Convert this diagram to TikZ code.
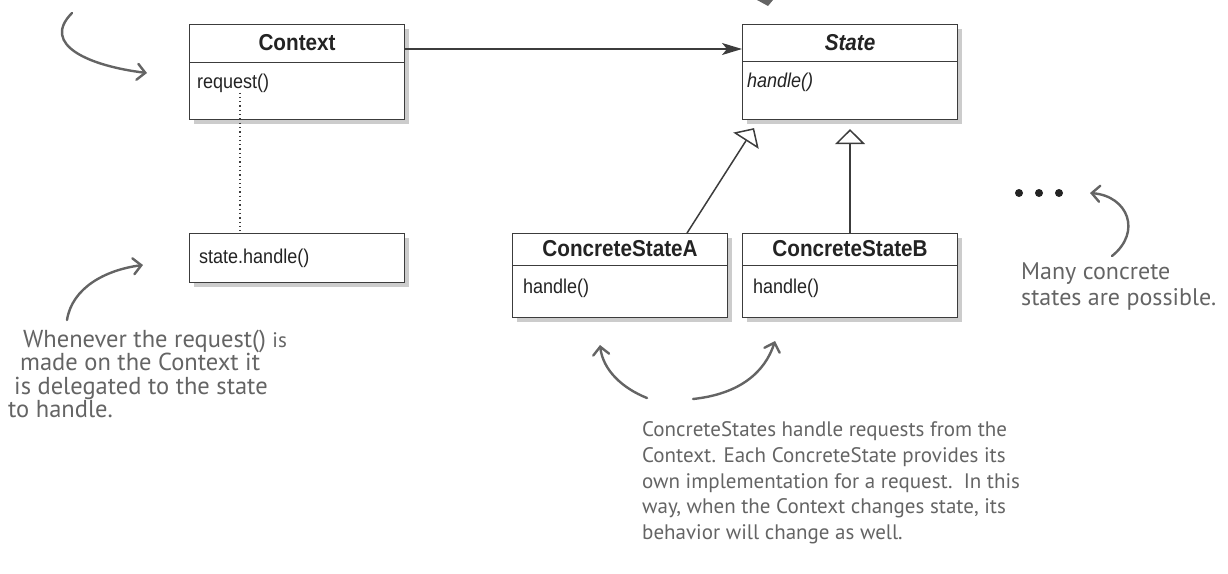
\documentclass[tikz,border=0pt]{standalone}
\usepackage{fontspec}
\setmainfont{Liberation Sans}
\newfontfamily\umlfont[FakeStretch=0.9]{Liberation Sans}
\newfontfamily\handfont{PT Sans}
\usetikzlibrary{arrows.meta,calc,shadows}

\definecolor{umlline}{RGB}{60,60,60}
\definecolor{umltext}{RGB}{35,35,35}
\definecolor{pencil}{RGB}{100,100,100}

\begin{document}
\begin{tikzpicture}[
		x=1pt, y=-1pt,
		classbox/.style={draw=umlline, line width=1.1pt, fill=white, anchor=north west, minimum width=215pt, inner sep=0pt, drop shadow={shadow xshift=4pt, shadow yshift=-4pt, opacity=0.4}},
		divider/.style={draw=umlline, line width=1pt},
		classname/.style={text=umltext, font=\umlfont\fontsize{23}{27}\selectfont\bfseries},
		method/.style={text=umltext, anchor=west, inner sep=0pt, font=\umlfont\fontsize{20}{24}\selectfont},
		assoc/.style={draw=umlline, line width=1.5pt, -{Stealth[length=20pt, width=12pt, inset=5pt]}},
		inherit/.style={draw=umlline, line width=1.5pt, -{Triangle[open, length=15pt, width=30pt, fill=white]}},
		dotline/.style={draw=umlline, line width=1.3pt, dash pattern=on 1.3pt off 3pt},
		handnote/.style={text=pencil, align=left, inner sep=0pt, font=\handfont\fontsize{24.5}{23.5}\selectfont},
		handarrow/.style={draw=pencil, line width=2.4pt, line cap=round, line join=round, -{Straight Barb[length=8pt, width=16pt, line cap=round]}}
	]
	\useasboundingbox (0,0) rectangle (1228,573);

	% classes
	\node[classbox, minimum height=95pt] (context) at (189,24) {};
	\node[classname] (contextname) at ($(context.north)+(0,19)$) {Context};
	\draw[divider] ($(context.north west)+(0,38)$) -- ($(context.north east)+(0,38)$);
	\node[method] (contextop) at ($(context.north west)+(8,59)$) {request()};

	\node[classbox, minimum height=95pt] (state) at (742,24) {};
	\node[classname, font=\umlfont\fontsize{23}{27}\selectfont\bfseries\itshape] (statename) at ($(state.north)+(0,19)$) {State};
	\draw[divider] ($(state.north west)+(0,37)$) -- ($(state.north east)+(0,37)$);
	\node[method, font=\umlfont\fontsize{20}{24}\selectfont\itshape] (stateop) at ($(state.north west)+(5,58)$) {handle()};

	\node[classbox, minimum height=49pt] (statecall) at (189,233) {};
	\node[method] (statecallop) at ($(statecall.west)+(10,0)$) {state.handle()};

	\node[classbox, minimum height=84pt] (csa) at (512,233) {};
	\node[classname] (csaname) at ($(csa.north)+(0,16)$) {ConcreteStateA};
	\draw[divider] ($(csa.north west)+(0,32)$) -- ($(csa.north east)+(0,32)$);
	\node[method] (csaop) at ($(csa.north west)+(11,55)$) {handle()};

	\node[classbox, minimum height=84pt] (csb) at (742,233) {};
	\node[classname] (csbname) at ($(csb.north)+(0,16)$) {ConcreteStateB};
	\draw[divider] ($(csb.north west)+(0,32)$) -- ($(csb.north east)+(0,32)$);
	\node[method] (csbop) at ($(csb.north west)+(11,55)$) {handle()};

	% relations
	\draw[assoc] ($(context.north east)+(0,25)$) -- ($(state.north west)+(0,25)$);
	\draw[inherit] ($(csa.north)+(67,0)$) -- ($(state.south)+(-96,8)$);
	\draw[inherit] (csb.north) -- ($(state.south)+(0,9)$);
	\coordinate (dotx) at (240,0);
	\draw[dotline] (contextop.south -| dotx) -- (statecall.north -| dotx);

	% more states
	\foreach \dx in {0,20,40}
		\fill[umltext] (1019+\dx,193) circle (4pt);

	% notes
	\node[handnote, anchor=west] (delegnote) at (8,374)
		{\hspace*{15pt}Whenever the request() {\fontsize{21}{23}\selectfont is}\\
		 \hspace*{12pt}made on the Context it\\
		 \hspace*{6pt}is delegated to the state\\
		 to handle.};
	\node[handnote, anchor=west, font=\handfont\fontsize{21}{25.7}\selectfont] (implnote) at (642,483)
		{ConcreteStates handle requests from the\\
		 Context. Each ConcreteState provides its\\
		 own implementation for a request.\ \ In this\\
		 way, when the Context changes state, its\\
		 behavior will change as well.};
	\node[handnote, anchor=north west, font=\handfont\fontsize{24}{26}\selectfont] (manynote) at (1021,262)
		{Many concrete\\ states are possible.};

	% pencil arrows
	\coordinate (topnote) at (72,13);
	\coordinate (ctxtip) at (147,73);
	\coordinate (delegstart) at (67,320);
	\coordinate (delegtip) at (143,265);
	\coordinate (implstartA) at (647,398);
	\coordinate (impltipA) at (600,345);
	\coordinate (implstartB) at (693,399);
	\coordinate (impltipB) at (775,341);
	\coordinate (manystart) at (1112,256);
	\coordinate (manytip) at (1090,193);
	\draw[handarrow] (topnote) .. controls (40,45) and (90,66) .. (ctxtip);
	\draw[handarrow] (delegstart) .. controls (72,288) and (105,270) .. (delegtip);
	\draw[handarrow] (implstartA) .. controls (622,388) and (603,370) .. (impltipA);
	\draw[handarrow] (implstartB) .. controls (740,394) and (765,372) .. (impltipB);
	\draw[handarrow] (manystart) .. controls (1142,232) and (1128,196) .. (manytip);
	\fill[pencil] (757,0) -- (773,0) -- (768,6) -- cycle;
\end{tikzpicture}
\end{document}
